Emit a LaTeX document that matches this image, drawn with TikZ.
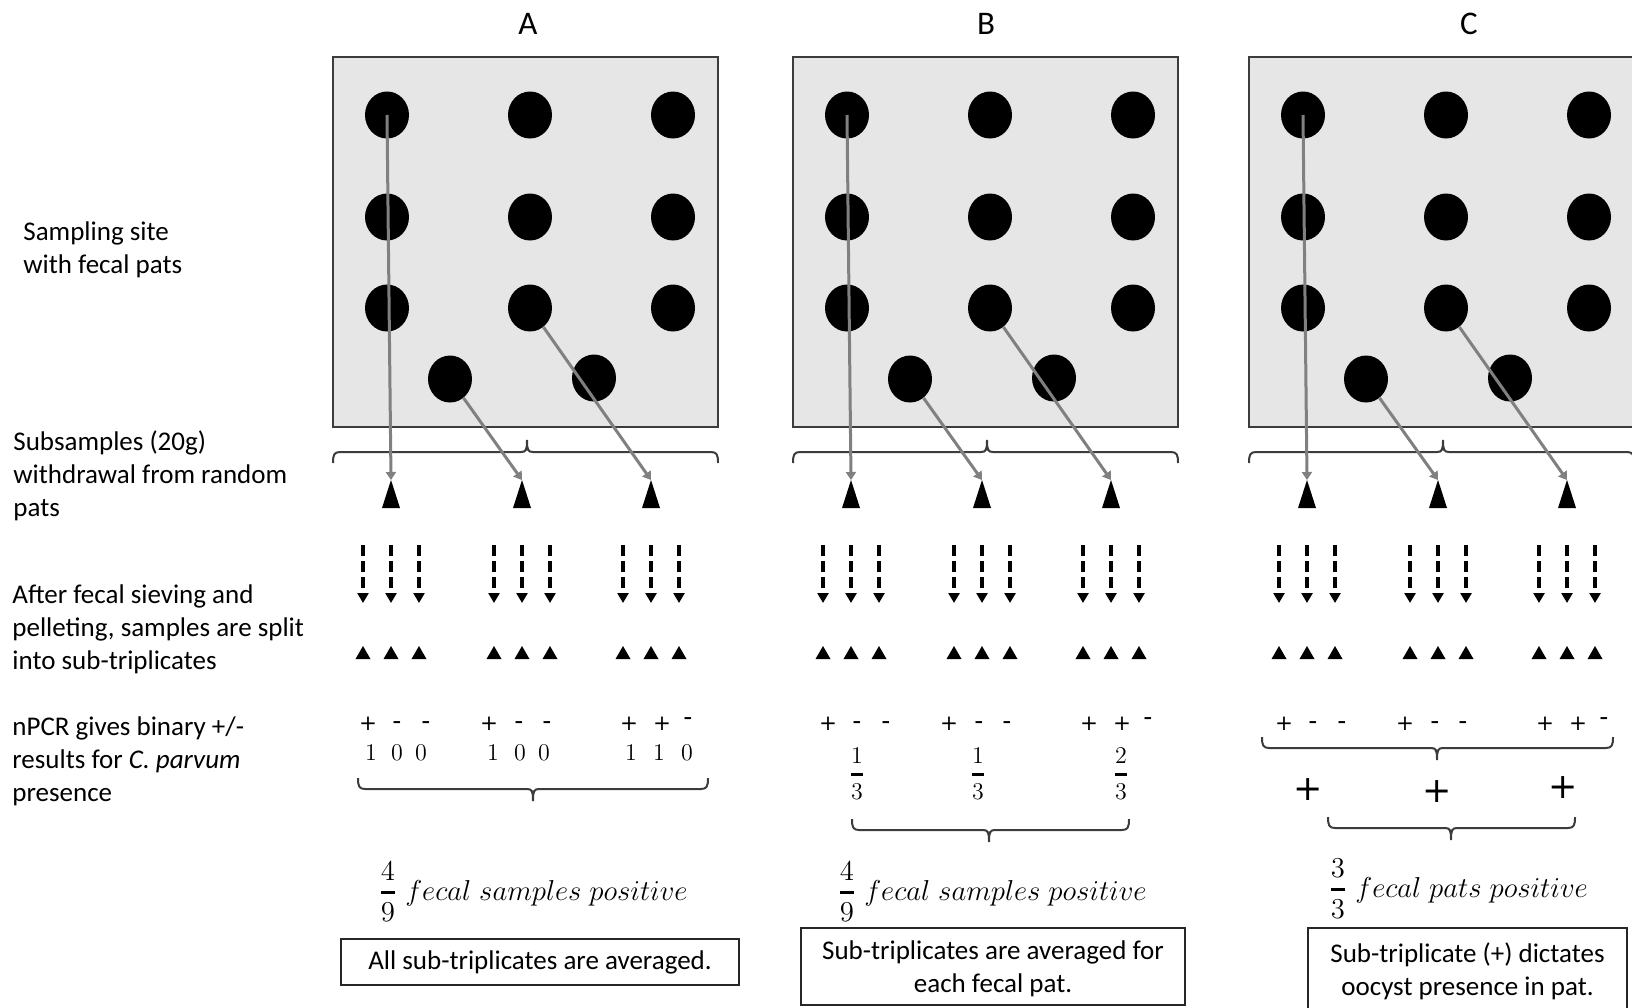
\documentclass[tikz,border=0pt]{standalone}
\usepackage{amsmath}
\usepackage{fontspec}
\setmainfont{Carlito}
\newfontfamily\symfont{DejaVu Sans}
\usetikzlibrary{arrows.meta,shapes.geometric}

\definecolor{fieldgray}{HTML}{E6E6E6}
\definecolor{edgegray}{HTML}{3C3C3C}
\definecolor{linkgray}{HTML}{808080}

\tikzset{
  sitebox/.style={draw=edgegray, line width=1pt, fill=fieldgray,
    minimum width=192.5pt, minimum height=185pt, inner sep=0pt},
  patdot/.style={ellipse, fill=black, minimum width=22pt, minimum height=23.5pt, inner sep=0pt},
  linkarrow/.style={draw=linkgray, line width=1.5pt, -{Triangle[length=4pt,width=5pt]}},
  splitarrow/.style={line width=1.75pt, dash pattern=on 5.5pt off 2.5pt,
    -{Triangle[length=5pt,width=5.5pt]}},
  bracketline/.style={draw=edgegray, line width=1pt},
  signtxt/.style={inner sep=0pt, anchor=base, font=\fontsize{14}{14}\selectfont},
  digittxt/.style={inner sep=0pt, anchor=base, font=\fontsize{12.5}{12.5}\selectfont},
  fractxt/.style={inner sep=0pt, font=\fontsize{12.5}{12.5}\selectfont},
  bigplus/.style={inner sep=0pt, anchor=base, font=\fontsize{17.5}{17.5}\symfont},
  sumtxt/.style={inner sep=0pt, anchor=base west, font=\fontsize{14}{14}\selectfont},
  notebox/.style={draw=black!85, line width=1pt, inner sep=0pt, align=center,
    font=\fontsize{13.5}{16.5}\selectfont},
  steptxt/.style={inner sep=0pt, anchor=base west, align=left,
    font=\fontsize{13.5}{16.5}\selectfont},
  paneltitle/.style={inner sep=0pt, font=\fontsize{16.5}{16.5}\selectfont}
}

\newcommand\plusmark{{\fontsize{10.7}{10.7}\symfont+}}

% horizontal bracket: #1 left x, #2 right x, #3 y, #4 tip x, #5 = 1 (ends down) or -1 (ends up)
\newcommand\panelbrace[5]{%
  \draw[bracketline] ({#1},{#3+11*#5}) .. controls ({#1},{#3+3*#5}) and ({#1+1},{#3}) .. ({#1+7},{#3})
    -- ({#4-6},{#3}) .. controls ({#4-1},{#3}) and ({#4},{#3-2*#5}) .. ({#4},{#3-12*#5})
    .. controls ({#4},{#3-2*#5}) and ({#4+1},{#3}) .. ({#4+6},{#3})
    -- ({#2-7},{#3}) .. controls ({#2-1},{#3}) and ({#2},{#3+3*#5}) .. ({#2},{#3+11*#5});}

% one sampling panel: #1 name prefix, #2 left edge of the site
\newcommand\fieldpanel[2]{%
  \node[sitebox] (#1-site) at ({#2+192.5},242) {};
  \foreach \cx/\cc in {54/1,197/2,340/3}{%
    \foreach \ry/\rr in {115/1,217/2,308/3}{%
      \node[patdot] (#1-p\rr\cc) at ({#2+\cx},\ry) {};}}
  \node[patdot] (#1-p41) at ({#2+117},379) {};
  \node[patdot] (#1-p42) at ({#2+261},378) {};
  \panelbrace{#2}{#2+385}{452}{#2+194}{1}
  \foreach \k/\tx in {1/58,2/189,3/318}{%
    \fill ({#2+\tx-9},508) -- ({#2+\tx},480) -- ({#2+\tx+9},508) -- cycle;
    \coordinate (#1-t\k) at ({#2+\tx},480);
    \foreach \j/\dx in {a/-28,b/0,c/28}{%
      \coordinate (#1-s\k\j) at ({#2+\tx+\dx},545);
      \coordinate (#1-e\k\j) at ({#2+\tx+\dx},603);
      \draw[splitarrow] (#1-s\k\j) -- (#1-e\k\j);
      \fill ({#2+\tx+\dx-7.5},659) -- ({#2+\tx+\dx},646) -- ({#2+\tx+\dx+7.5},659) -- cycle;}}
  \draw[linkarrow] (#1-p11.center) -- (#1-t1);
  \draw[linkarrow] (#1-p41) -- (#1-t2);
  \draw[linkarrow] (#1-p32) -- (#1-t3);
  \foreach \n/\rx/\ry/\sym in {a/35/730/\plusmark, b/64/730/-, c/93/730/-,
      d/156/730/\plusmark, e/186/730/-, f/214/730/-,
      g/296/730/\plusmark, h/329/730/\plusmark, i/355/726/-}{%
    \node[signtxt] (#1-r\n) at ({#2+\rx},\ry) {\sym};}
}

\begin{document}
\begin{tikzpicture}[x=0.5pt,y=-0.5pt]
\useasboundingbox (0,0) rectangle (1632,1007);
\begin{scope}
\clip (0,0) rectangle (1632,1007);

% step descriptions (anchored on the baseline of their last line)
\node[steptxt] (lab-site) at (23,273) {Sampling site\\with fecal pats};
\node[steptxt] (lab-sub) at (13,516) {Subsamples (20g)\\withdrawal from random\\pats};
\node[steptxt] (lab-split) at (12,669) {After fecal sieving and\\pelleting, samples are split\\into sub-triplicates};
\node[steptxt] (lab-pcr) at (12,801) {nPCR gives binary +/-\\results for \textit{C. parvum}\\presence};

% panel titles
\node[paneltitle] (title-A) at (528,24) {A};
\node[paneltitle] (title-B) at (986,24) {B};
\node[paneltitle] (title-C) at (1469,24) {C};

\fieldpanel{A}{333}
\fieldpanel{B}{793}
\fieldpanel{C}{1249}

% A: all sub-triplicates pooled
\foreach \n/\rx/\d in {a/38/1,b/64/0,c/88/0,d/160/1,e/187/0,f/211/0,g/298/1,h/326/1,i/354/0}{%
  \node[digittxt] (A-v\n) at ({333+\rx},760) {$\d$};}
\panelbrace{358}{708}{789}{533}{-1}
\node[sumtxt] (A-sum) at (378,900) {$\genfrac{}{}{1.5pt}{0}{4}{9}\;fecal\;samples\;positive$};
\node[notebox, minimum width=199pt, minimum height=23pt] (A-note) at (540,962)
  {All sub-triplicates are averaged.};

% B: averaged per pat
\node[fractxt] (B-f1) at (857,774) {$\genfrac{}{}{1.5pt}{0}{1}{3}$};
\node[fractxt] (B-f2) at (978,774) {$\genfrac{}{}{1.5pt}{0}{1}{3}$};
\node[fractxt] (B-f3) at (1121,774) {$\genfrac{}{}{1.5pt}{0}{2}{3}$};
\panelbrace{852}{1129}{830}{989}{-1}
\node[sumtxt] (B-sum) at (837,900) {$\genfrac{}{}{1.5pt}{0}{4}{9}\;fecal\;samples\;positive$};
\node[notebox, minimum width=192pt, minimum height=38.5pt] (B-note) at (993,966.5)
  {\rule{0pt}{12pt}Sub-triplicates are averaged for\\each fecal pat.};

% C: any positive sub-triplicate marks the pat
\panelbrace{1262}{1613}{748}{1437}{-1}
\node[bigplus] (C-q1) at (1308,800) {+};
\node[bigplus] (C-q2) at (1437,802) {+};
\node[bigplus] (C-q3) at (1563,798) {+};
\panelbrace{1328}{1575}{828}{1451}{-1}
\node[sumtxt] (C-sum) at (1328,897) {$\genfrac{}{}{1.5pt}{0}{3}{3}\;fecal\;pats\;positive$};
\node[notebox, minimum width=159.5pt, minimum height=41pt] (C-note) at (1467.5,969)
  {\rule{0pt}{12pt}Sub-triplicate (+) dictates\\oocyst presence in pat.};
\end{scope}
\end{tikzpicture}
\end{document}
